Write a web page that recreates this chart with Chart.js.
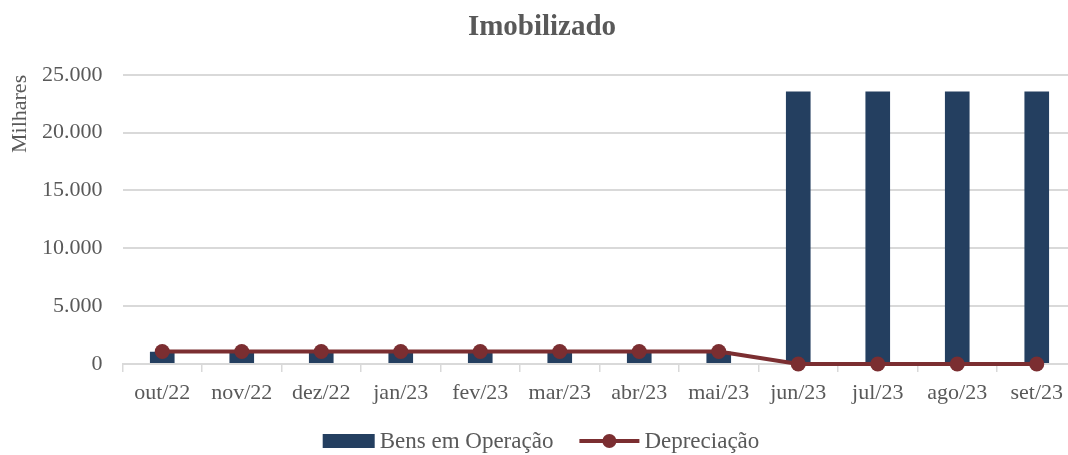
<!DOCTYPE html>
<html>
<head>
<meta charset="utf-8">
<script src="https://cdn.jsdelivr.net/npm/chart.js@4"></script>
<style>
  html, body { margin: 0; padding: 0; overflow: hidden; background: #ffffff; }
  #wrap { width: 1084px; height: 455px; }
</style>
</head>
<body>
<div id="wrap"><canvas id="c" width="1084" height="455"></canvas></div>
<script>
// ---- data ----
const categories = ['out/22', 'nov/22', 'dez/22', 'jan/23', 'fev/23', 'mar/23', 'abr/23', 'mai/23', 'jun/23', 'jul/23', 'ago/23', 'set/23'];
const bensEmOperacao = [1050, 1050, 1050, 1050, 1050, 1050, 1050, 1050, 23550, 23550, 23550, 23550];
const depreciacao = [1080, 1080, 1080, 1080, 1080, 1080, 1080, 1080, 0, 0, 0, 0];
const yTickValues = [0, 5000, 10000, 15000, 20000, 25000];
const seriesNames = ['Bens em Operação', 'Depreciação'];
const chartTitle = 'Imobilizado';
const yAxisTitle = 'Milhares';

// ---- style ----
const FONT = '"Liberation Serif", "Times New Roman", serif';
const TEXT = '#595959';
const BAR = '#243F60';
const LINE = '#7B2E31';
const GRID = '#D9D9D9';

function fmt(v) {
  return String(Math.round(v)).replace(/\B(?=(\d{3})+(?!\d))/g, '.');
}

const bottomLegend = {
  id: 'bottomLegend',
  afterDraw(chart) {
    const ctx = chart.ctx;
    const ds = chart.data.datasets;
    ctx.save();
    ctx.font = '23px ' + FONT;
    ctx.textBaseline = 'middle';
    ctx.textAlign = 'left';
    const barW = 52, barH = 14, lineW = 60, gapText = 5, gapItem = 26;
    const t1 = ctx.measureText(ds[0].label).width;
    const t2 = ctx.measureText(ds[1].label).width;
    const total = barW + gapText + t1 + gapItem + lineW + gapText + t2;
    let x = 541 - total / 2;
    const y = 441;
    // bar item
    ctx.fillStyle = ds[0].backgroundColor;
    ctx.fillRect(x, y - barH / 2, barW, barH);
    x += barW + gapText;
    ctx.fillStyle = TEXT;
    ctx.fillText(ds[0].label, x, y + 1);
    x += t1 + gapItem;
    // line item
    ctx.strokeStyle = ds[1].borderColor;
    ctx.lineWidth = ds[1].borderWidth;
    ctx.beginPath();
    ctx.moveTo(x, y);
    ctx.lineTo(x + lineW, y);
    ctx.stroke();
    ctx.fillStyle = ds[1].pointBackgroundColor;
    ctx.beginPath();
    ctx.arc(x + lineW / 2, y, 7, 0, Math.PI * 2);
    ctx.fill();
    x += lineW + gapText;
    ctx.fillStyle = TEXT;
    ctx.fillText(ds[1].label, x, y + 1);
    ctx.restore();
  }
};

new Chart(document.getElementById('c'), {
  type: 'bar',
  data: {
    labels: categories,
    datasets: [
      {
        type: 'bar',
        label: seriesNames[0],
        data: bensEmOperacao,
        backgroundColor: BAR,
        borderWidth: 0,
        categoryPercentage: 1.0,
        barPercentage: 0.31,
        order: 2
      },
      {
        type: 'line',
        label: seriesNames[1],
        data: depreciacao,
        borderColor: LINE,
        backgroundColor: LINE,
        pointBackgroundColor: LINE,
        pointBorderColor: LINE,
        borderWidth: 4,
        pointRadius: 7.5,
        pointBorderWidth: 0,
        tension: 0,
        fill: false,
        clip: false,
        order: 1
      }
    ]
  },
  options: {
    responsive: false,
    animation: false,
    events: [],
    layout: { padding: { left: 0, right: 0, top: 0, bottom: 30 } },
    plugins: {
      legend: { display: false },
      tooltip: { enabled: false },
      title: {
        display: true,
        text: chartTitle,
        color: TEXT,
        font: { family: FONT, size: 29, weight: 'bold' },
        padding: { top: 10, bottom: 30 }
      }
    },
    scales: {
      x: {
        offset: true,
        grid: {
          offset: true,
          drawOnChartArea: false,
          drawTicks: true,
          tickLength: 8,
          color: GRID,
          lineWidth: 1.5
        },
        border: { display: true, color: GRID, width: 2 },
        ticks: {
          color: TEXT,
          font: { family: FONT, size: 22 },
          padding: 8,
          maxRotation: 0,
          autoSkip: false
        },
        afterFit(scale) { scale.height = 61; }
      },
      y: {
        min: 0,
        max: 25000,
        afterBuildTicks(scale) { scale.ticks = yTickValues.map(v => ({ value: v })); },
        grid: { color: GRID, lineWidth: 2, drawTicks: false },
        border: { display: false },
        ticks: {
          color: TEXT,
          font: { family: FONT, size: 22 },
          padding: 20,
          callback: (v) => fmt(v)
        },
        title: {
          display: true,
          text: yAxisTitle,
          align: 'end',
          color: TEXT,
          font: { family: FONT, size: 22 },
          padding: { top: 7, bottom: 0 }
        },
        afterFit(scale) { scale.width = 122.5; }
      }
    }
  },
  plugins: [bottomLegend]
});
</script>
</body>
</html>
